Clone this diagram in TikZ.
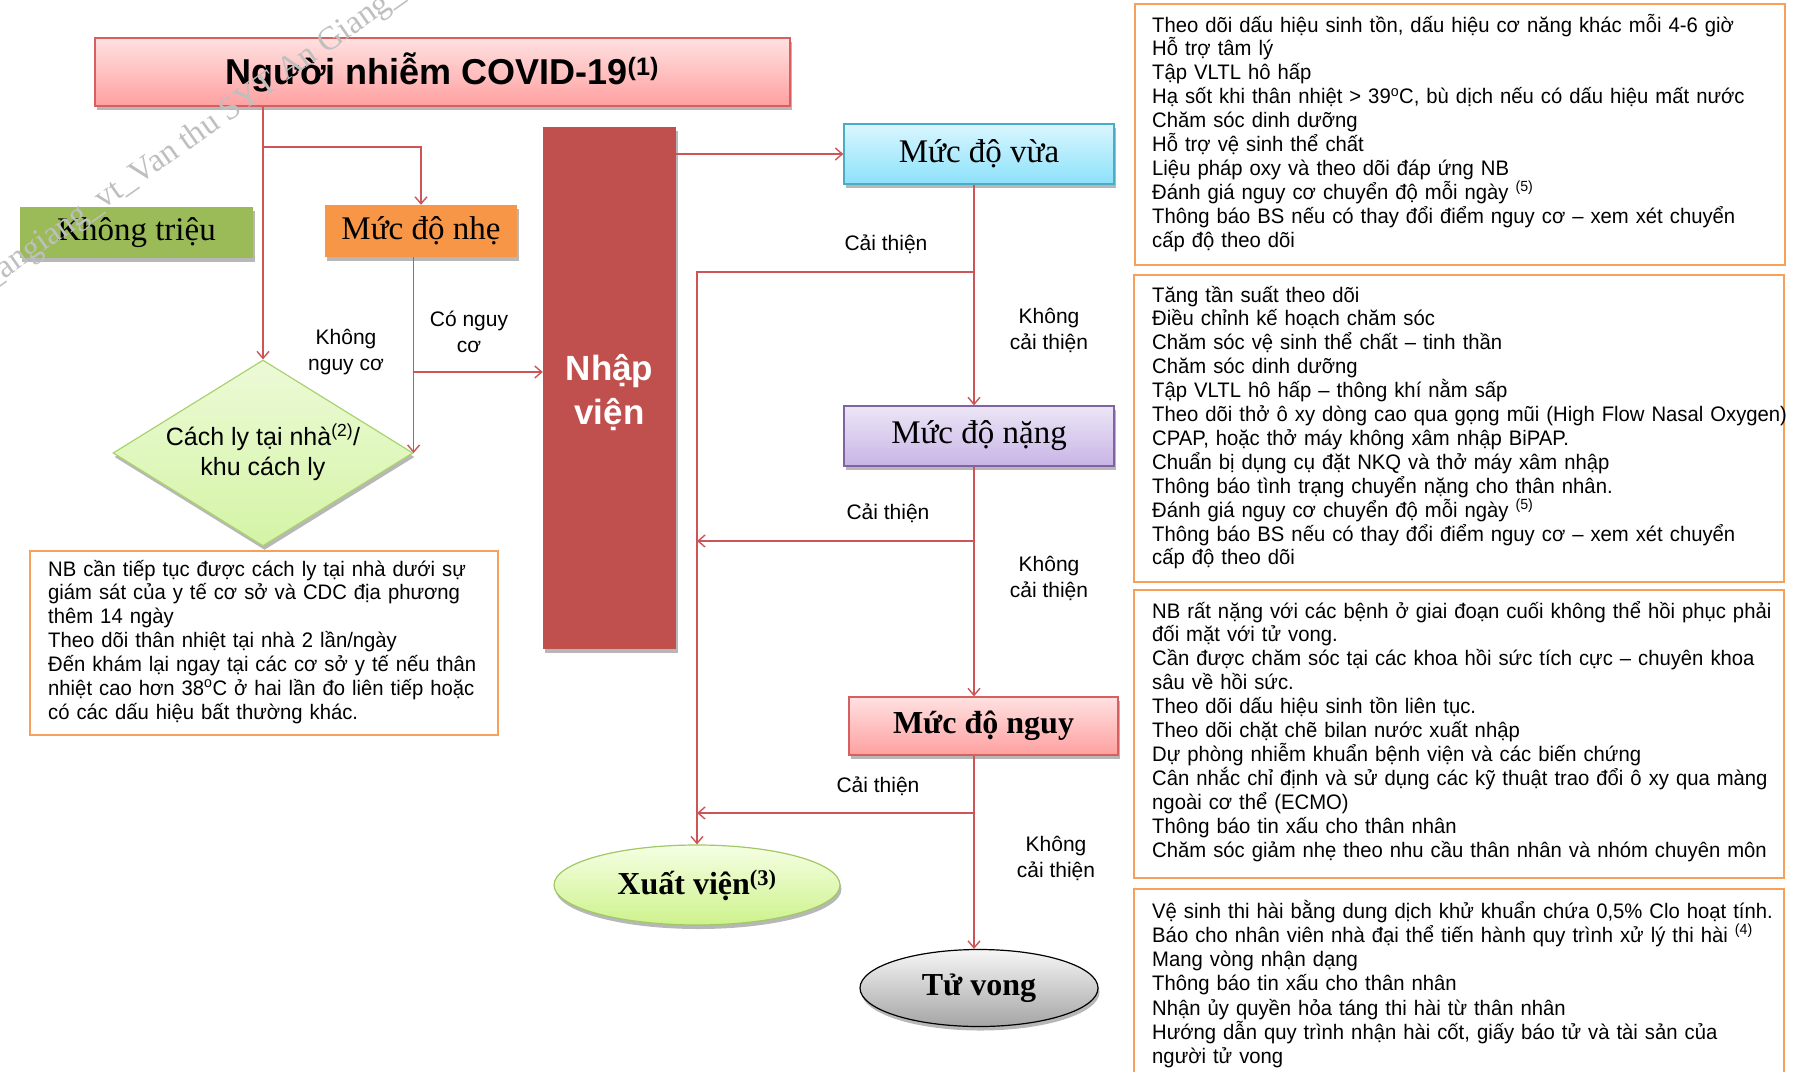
\documentclass[tikz,border=0pt]{standalone}
\usepackage{fontspec}
\setmainfont{Liberation Serif}
\setsansfont{Liberation Sans}
\newfontfamily\bodyff{Liberation Sans}[FakeStretch=0.965]
\usetikzlibrary{shapes.geometric,arrows.meta,shadows,calc}
\definecolor{ln}{RGB}{205,85,85}
\definecolor{nvred}{RGB}{192,80,77}
\definecolor{olivegr}{RGB}{155,187,89}
\definecolor{orng}{RGB}{247,150,70}
\definecolor{notebd}{RGB}{247,160,90}
\definecolor{pinkbd}{RGB}{215,95,95}
\definecolor{pinktop}{RGB}{255,225,225}
\definecolor{pinkbot}{RGB}{255,160,160}
\definecolor{bluebd}{RGB}{75,172,198}
\definecolor{bluetop}{RGB}{218,246,255}
\definecolor{bluebot}{RGB}{140,225,250}
\definecolor{purbd}{RGB}{128,100,162}
\definecolor{purtop}{RGB}{236,230,246}
\definecolor{purbot}{RGB}{200,180,230}
\definecolor{grnbd}{RGB}{160,200,100}
\definecolor{grntop}{RGB}{246,255,228}
\definecolor{grnbot}{RGB}{205,242,140}
\definecolor{diabd}{RGB}{170,210,110}
\definecolor{diatop}{RGB}{236,250,215}
\definecolor{diabot}{RGB}{212,244,165}
\definecolor{gytop}{RGB}{246,246,246}
\definecolor{gybot}{RGB}{165,165,165}
\newcommand\bodyfont{\bodyff\fontsize{21}{23.9}\selectfont}
\newcommand\lblfont{\sffamily\fontsize{21}{26}\selectfont}
\newcommand\serifbig{\rmfamily\fontsize{33}{38}\selectfont}
\newcommand\serifbold{\rmfamily\bfseries\fontsize{32}{38}\selectfont}
\newcommand\jl[2]{\makebox[#1][s]{#2}}
\begin{document}
\begin{tikzpicture}[x=1pt,y=-1pt,
  conn/.style={draw=ln, line width=1.6pt},
  arr/.style={conn, -{Straight Barb[length=7pt,width=12pt,line width=1.4pt]}},
  sh/.style={drop shadow={shadow xshift=1.5pt,shadow yshift=-4pt,opacity=.4,fill=black!70}},
  flatbox/.style={rectangle, inner sep=0pt, font=\serifbig, sh},
  lvlbox/.style={rectangle, draw, line width=1.3pt, inner sep=0pt, minimum width=270pt, minimum height=60pt, font=\serifbig, sh},
  notebox/.style={rectangle, draw=notebd, line width=1.6pt, fill=white, inner sep=0pt},
  notetext/.style={font=\bodyfont, text width=700pt, align=left, inner sep=0pt, anchor=base west},
  lbl/.style={font=\lblfont, align=center, inner sep=0pt}
]
\useasboundingbox (0,0) rectangle (1795,1071);

% title
\node[rectangle, draw=pinkbd, line width=1.3pt, top color=pinktop, bottom color=pinkbot, minimum width=695pt, minimum height=68pt, inner sep=0pt, sh, font=\sffamily\bfseries\fontsize{36}{40}\selectfont] (title) at (442.5,72) {Người nhiễm COVID-19\textsuperscript{(1)}};

% left boxes
\node[flatbox, fill=olivegr, minimum width=233pt, minimum height=51pt] (kt) at (136.5,232.5) {Không triệu};
\node[flatbox, fill=orng, minimum width=192pt, minimum height=52pt] (nhe) at (421,231) {Mức độ nhẹ};

% Nhap vien
\node[rectangle, fill=nvred, minimum width=133pt, minimum height=522pt, inner sep=0pt, sh] (nv) at (609.5,388) {};
\node[text=white, align=center, inner sep=0pt, font=\sffamily\bfseries\fontsize{35}{44}\selectfont] (nvt) at (609.5,393) {Nhập\\viện};

% severity boxes
\node[lvlbox, draw=bluebd, top color=bluetop, bottom color=bluebot] (vua) at (979,154) {Mức độ vừa};
\node[lvlbox, draw=purbd, top color=purtop, bottom color=purbot] (nang) at (979,436) {Mức độ nặng};
\node[lvlbox, minimum width=269pt, minimum height=58pt, draw=pinkbd, top color=pinktop, bottom color=pinkbot, font=\serifbold] (nguy) at (983.5,726) {Mức độ nguy};

% ellipses
\node[ellipse, draw=grnbd, line width=1.2pt, top color=grntop, bottom color=grnbot, minimum width=286pt, minimum height=80pt, inner sep=0pt, sh, font=\serifbold] (xv) at (697,885) {Xuất viện\textsuperscript{(3)}};
\node[ellipse, draw=black, line width=1.2pt, top color=gytop, bottom color=gybot, minimum width=238pt, minimum height=77pt, inner sep=0pt, sh, font=\serifbold] (tv) at (979,988) {Tử vong};

% diamond
\node[diamond, draw=diabd, line width=1.2pt, top color=diatop, bottom color=diabot, minimum width=300pt, minimum height=186pt, inner sep=0pt, sh] (dia) at (263,453) {};
\node[align=center, inner sep=0pt, font=\sffamily\fontsize{25}{30}\selectfont] (diat) at (263,452) {Cách ly tại nhà\textsuperscript{(2)}/\\khu cách ly};

% note boxes
\node[notebox, minimum width=468pt, minimum height=184pt] (n0) at (264,643) {};
\node[notebox, minimum width=650pt, minimum height=261pt] (n1) at (1460,134.5) {};
\node[notebox, minimum width=650pt, minimum height=307pt] (n2) at (1459,428.5) {};
\node[notebox, minimum width=650pt, minimum height=288pt] (n3) at (1459,734) {};
\node[notebox, minimum width=650pt, minimum height=201pt] (n4) at (1459,989.5) {};

\node[notetext] (t0) at (48,576) {%
\jl{435pt}{NB cần tiếp tục được cách ly tại nhà dưới sự}\\
\jl{435pt}{giám sát của y tế cơ sở và CDC địa phương}\\
thêm 14 ngày\\
Theo dõi thân nhiệt tại nhà 2 lần/ngày\\
\jl{435pt}{Đến khám lại ngay tại các cơ sở y tế nếu thân}\\
\jl{435pt}{nhiệt cao hơn 38\textsuperscript{o}C ở hai lần đo liên tiếp hoặc}\\
có các dấu hiệu bất thường khác.};

\node[notetext] (t1) at (1152,32) {%
Theo dõi dấu hiệu sinh tồn, dấu hiệu cơ năng khác mỗi 4-6 giờ\\
Hỗ trợ tâm lý\\
Tập VLTL hô hấp\\
Hạ sốt khi thân nhiệt > 39\textsuperscript{o}C, bù dịch nếu có dấu hiệu mất nước\\
Chăm sóc dinh dưỡng\\
Hỗ trợ vệ sinh thể chất\\
Liệu pháp oxy và theo dõi đáp ứng NB\\
Đánh giá nguy cơ chuyển độ mỗi ngày \textsuperscript{(5)}\\
Thông báo BS nếu có thay đổi điểm nguy cơ – xem xét chuyển\\
cấp độ theo dõi};

\node[notetext] (t2) at (1152,302) {%
Tăng tần suất theo dõi\\
Điều chỉnh kế hoạch chăm sóc\\
Chăm sóc vệ sinh thể chất – tinh thần\\
Chăm sóc dinh dưỡng\\
Tập VLTL hô hấp – thông khí nằm sấp\\
Theo dõi thở ô xy dòng cao qua gọng mũi (High Flow Nasal Oxygen)\\
CPAP, hoặc thở máy không xâm nhập BiPAP.\\
Chuẩn bị dụng cụ đặt NKQ và thở máy xâm nhập\\
Thông báo tình trạng chuyển nặng cho thân nhân.\\
Đánh giá nguy cơ chuyển độ mỗi ngày \textsuperscript{(5)}\\
Thông báo BS nếu có thay đổi điểm nguy cơ – xem xét chuyển\\
cấp độ theo dõi};

\node[notetext] (t3) at (1152,618) {%
\jl{616pt}{NB rất nặng với các bệnh ở giai đoạn cuối không thể hồi phục phải}\\
đối mặt với tử vong.\\
\jl{616pt}{Cần được chăm sóc tại các khoa hồi sức tích cực – chuyên khoa}\\
sâu về hồi sức.\\
Theo dõi dấu hiệu sinh tồn liên tục.\\
Theo dõi chặt chẽ bilan nước xuất nhập\\
Dự phòng nhiễm khuẩn bệnh viện và các biến chứng\\
\jl{616pt}{Cân nhắc chỉ định và sử dụng các kỹ thuật trao đổi ô xy qua màng}\\
ngoài cơ thể (ECMO)\\
Thông báo tin xấu cho thân nhân\\
Chăm sóc giảm nhẹ theo nhu cầu thân nhân và nhóm chuyên môn};

\node[notetext, font=\bodyff\fontsize{21}{24.3}\selectfont] (t4) at (1152,918) {%
Vệ sinh thi hài bằng dung dịch khử khuẩn chứa 0,5\% Clo hoạt tính.\\
Báo cho nhân viên nhà đại thể tiến hành quy trình xử lý thi hài \textsuperscript{(4)}\\
Mang vòng nhận dạng\\
Thông báo tin xấu cho thân nhân\\
Nhận ủy quyền hỏa táng thi hài từ thân nhân\\
\jl{616pt}{Hướng dẫn quy trình nhận hài cốt, giấy báo tử và tài sản của}\\
người tử vong};

% helper coordinates
\coordinate (y147) at (0,147);
\coordinate (y372) at (0,372);
\coordinate (cx) at (974,0);
\coordinate (b1) at (dia.north |- y147);
\coordinate (b2) at (dia.east |- y372);
\coordinate (c1) at (974,272);
\coordinate (c2) at (974,541);
\coordinate (c3) at (974,813);

% connectors
\draw[arr] (title.south -| dia.north) -- (dia.north);
\draw[arr] (b1) -| (nhe.north);
\draw[arr] (nhe.south -| dia.east) -- (dia.east);
\draw[arr] (b2) -- (b2 -| nv.west);
\draw[arr] (nv.east |- vua.west) -- (vua.west);
\draw[arr] (vua.south -| cx) -- (nang.north -| cx);
\draw[arr] (nang.south -| cx) -- (nguy.north -| cx);
\draw[arr] (nguy.south -| cx) -- (tv.north -| cx);
\draw[arr] (c1) -| (xv.north);
\draw[arr] (c2) -- (c2 -| xv.north);
\draw[arr] (c3) -- (c3 -| xv.north);

% labels
\node[lbl] (l1) at (346,352) {Không\\nguy cơ};
\node[lbl] (l2) at (469,332) {Có nguy\\cơ};
\node[lbl] (l3) at (886,244) {Cải thiện};
\node[lbl] (l4) at (888,513) {Cải thiện};
\node[lbl] (l5) at (878,786) {Cải thiện};
\node[lbl] (l6) at (1049,330) {Không\\cải thiện};
\node[lbl] (l7) at (1049,578) {Không\\cải thiện};
\node[lbl] (l8) at (1056,858) {Không\\cải thiện};

% watermark
\node[rotate=35, text=black!25, inner sep=0pt, font=\rmfamily\fontsize{33}{33}\selectfont] (wm) at (194,137) {\_angiang\_vt\_Van thu SYT An Giang\_};
\end{tikzpicture}
\end{document}
